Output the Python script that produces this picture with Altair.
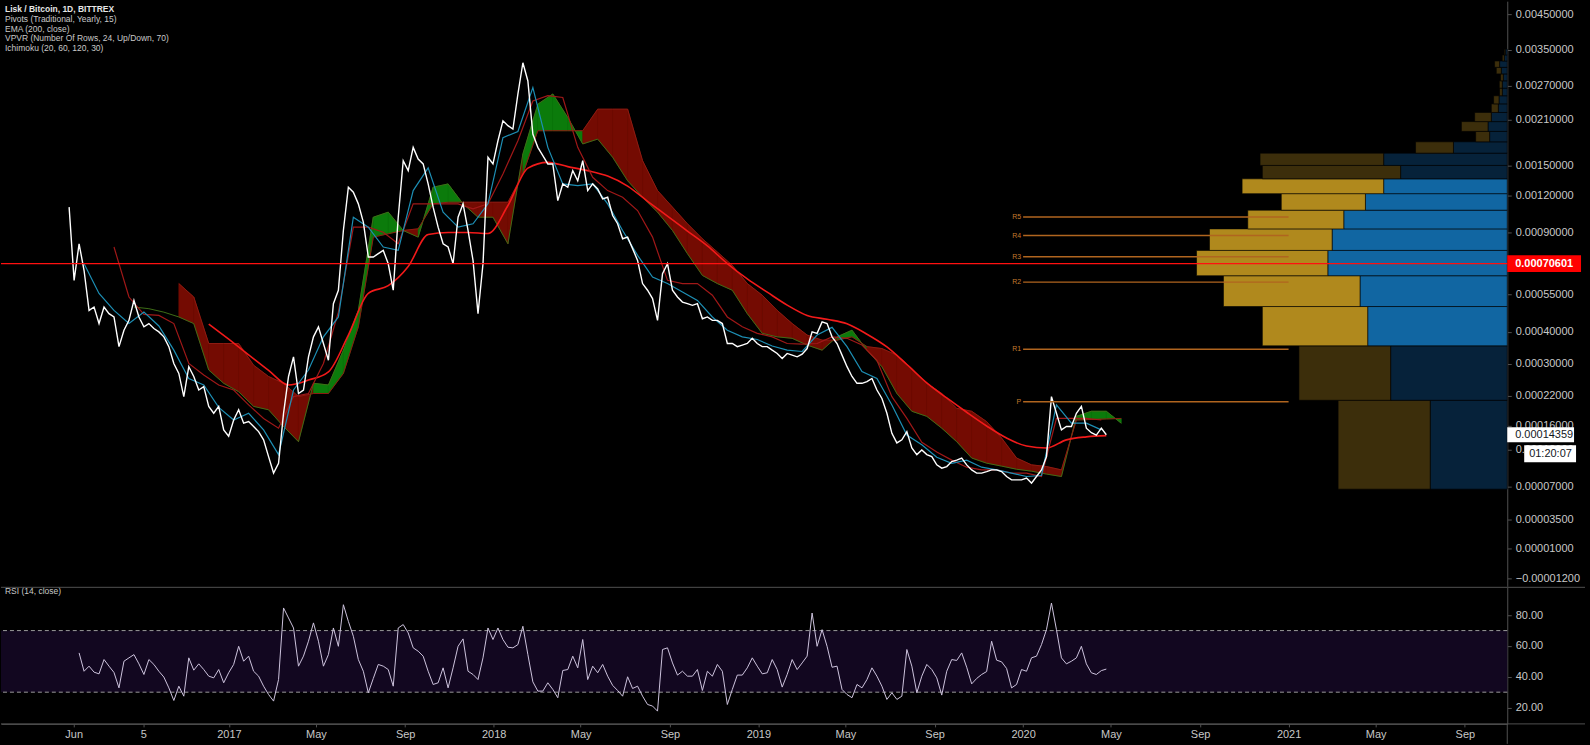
import altair as alt
import pandas as pd

# ---------------- data (prices in units of 1e-4 BTC) ----------------
START = pd.Timestamp("2016-05-25T17:00:00")
STEP = pd.Timedelta(hours=165)

price_e4 = [
    10.96, 6.17, 8.26, 6.68, 4.81, 4.95, 4.30, 4.95, 4.68, 4.55,
    3.51, 4.06, 4.42, 5.23, 4.55, 4.18, 4.30, 4.12, 4.00, 3.83,
    3.51, 3.01, 2.74, 2.18, 2.92, 2.66, 2.33, 2.41, 1.97, 1.83,
    1.97, 1.52, 1.41, 1.70, 1.90, 1.64, 1.67, 1.58, 1.49, 1.35,
    1.09, 0.863, 0.995, 1.83, 2.66, 3.20, 2.25, 2.33, 3.20, 3.83,
    4.18, 3.61, 3.10, 5.09, 5.69, 9.16, 12.75, 12.28, 11.24, 9.77,
    7.44, 7.44, 7.64, 7.84, 7.05, 5.69, 10.15, 15.55, 14.44, 17.17,
    15.75, 15.18, 13.07, 10.96, 9.40, 8.26, 8.05, 7.05, 10.15, 11.24,
    9.16, 7.24, 4.68, 7.05, 15.95, 15.18, 18.03, 20.87, 20.14, 19.66,
    25.39, 31.83, 27.90, 18.95, 17.17, 16.15, 15.18, 15.18, 11.52, 13.07,
    12.75, 14.44, 13.39, 15.55, 12.43, 13.07, 12.59, 11.67, 11.82, 10.28,
    9.65, 8.59, 8.70, 7.95, 7.24, 6.01, 5.69, 5.31, 4.42, 6.51,
    7.05, 5.69, 5.38, 5.16, 5.09, 5.02, 5.09, 4.48, 4.55, 4.42,
    4.42, 4.30, 3.61, 3.61, 3.51, 3.56, 3.61, 3.78, 3.61, 3.51,
    3.51, 3.40, 3.30, 3.15, 3.30, 3.25, 3.20, 3.28, 3.45, 4.00,
    3.95, 4.36, 4.30, 3.83, 3.61, 3.25, 2.92, 2.66, 2.49, 2.49,
    2.53, 2.61, 2.33, 2.14, 1.83, 1.46, 1.30, 1.35, 1.49, 1.22,
    1.12, 1.19, 1.12, 1.09, 0.973, 0.928, 0.950, 1.02, 1.04, 1.07,
    0.973, 0.905, 0.863, 0.863, 0.883, 0.905, 0.905, 0.883, 0.819, 0.777,
    0.777, 0.777, 0.799, 0.737, 0.819, 0.905, 1.09, 2.18, 1.83, 1.52,
    1.58, 1.58, 1.83, 1.97, 1.55, 1.47, 1.43, 1.55, 1.4359,
]

rsi_vals = [  # starts at step 2
    55.5, 43.6, 46.9, 43.0, 41.9, 51.2, 46.9, 42.8, 32.8, 50.1,
    52.3, 54.4, 48.4, 41.5, 51.2, 48.0, 43.6, 39.8, 32.8, 24.6,
    33.9, 27.4, 52.3, 44.3, 48.4, 44.7, 40.4, 39.3, 44.7, 36.1,
    42.6, 48.0, 59.8, 50.1, 53.4, 43.6, 40.4, 33.9, 28.5, 24.2,
    38.2, 84.7, 78.2, 71.7, 46.9, 53.4, 63.1, 75.0, 63.1, 46.9,
    54.4, 71.7, 59.8, 86.8, 76.0, 66.3, 51.2, 43.6, 29.6, 38.9,
    48.0, 46.9, 44.7, 33.9, 71.7, 73.9, 68.5, 58.8, 56.6, 53.4,
    43.6, 35.0, 36.1, 45.8, 32.8, 45.8, 59.8, 64.6, 43.6, 41.5,
    38.2, 52.3, 71.7, 64.2, 71.7, 64.2, 59.2, 58.8, 60.9, 72.8,
    54.4, 36.7, 30.7, 30.7, 36.1, 31.8, 26.4, 44.1, 44.7, 53.4,
    45.8, 64.2, 38.2, 46.9, 42.6, 48.0, 40.4, 34.4, 31.1, 27.4,
    40.0, 32.4, 33.9, 27.4, 22.0, 21.0, 17.7, 57.7, 58.8, 49.0,
    41.1, 43.6, 40.4, 40.4, 44.7, 31.1, 43.6, 40.4, 48.0, 43.6,
    22.0, 31.8, 41.1, 41.1, 45.8, 52.3, 46.9, 41.9, 42.6, 51.2,
    44.7, 33.3, 41.5, 51.2, 44.7, 49.0, 53.4, 81.4, 59.8, 70.6,
    59.8, 46.2, 46.9, 31.8, 28.5, 26.4, 35.0, 32.8, 38.2, 45.8,
    40.4, 33.9, 25.3, 29.6, 25.3, 27.4, 57.7, 46.9, 29.6, 40.4,
    48.0, 44.7, 39.3, 28.1, 43.6, 51.2, 50.6, 55.5, 46.2, 35.4,
    38.9, 41.5, 43.4, 63.1, 50.8, 49.7, 45.4, 32.8, 35.0, 44.7,
    43.6, 52.3, 53.4, 60.9, 70.6, 87.9, 70.6, 52.3, 48.4, 50.1,
    52.3, 59.8, 48.4, 42.6, 41.5, 44.0, 45.0,
]

conv_e4 = [  # Ichimoku conversion line, every 3 steps from step 3
    7.05, 5.54, 4.81, 4.30, 4.74, 4.21, 3.40, 2.61, 2.45, 1.95,
    1.70, 1.83, 1.52, 1.12, 2.33, 2.83, 3.83, 4.55, 10.15, 9.40,
    8.05, 7.84, 12.43, 14.74, 10.55, 9.40, 9.65, 11.24, 18.45, 19.31,
    26.6, 17.17, 13.07, 12.91, 13.07, 11.24, 9.16, 7.54, 6.34, 6.01,
    5.61, 5.23, 4.55, 4.06, 3.83, 3.74, 3.53, 3.40, 3.36, 3.89,
    4.16, 3.51, 2.79, 2.61, 2.00, 1.43, 1.27, 1.08, 0.995, 1.04,
    0.941, 0.905, 0.863, 0.819, 0.832, 2.00, 1.64, 1.64, 1.52,
]

base_e4 = [  # Ichimoku base line, every 3 steps from step 9
    8.05, 5.38, 4.65, 4.61, 4.30, 3.01, 2.70, 2.45, 2.33, 2.00,
    1.73, 1.55, 2.18, 2.25, 3.01, 4.74, 9.40, 9.40, 9.04, 8.26,
    11.24, 11.24, 11.24, 11.24, 10.82, 11.24, 14.09, 18.03,
    24.14, 25.07, 24.75, 17.17, 13.74, 12.43, 11.82, 10.68, 8.70, 6.17,
    6.01, 6.01, 5.46, 4.55, 4.18, 3.95, 3.83, 3.61, 3.59, 3.61,
    3.83, 3.78, 3.56, 3.10, 2.18, 1.73, 1.31, 1.16, 1.04, 0.941,
    0.905, 0.905, 0.863, 0.863, 0.819,
    1.73, 1.73, 1.73, 1.70,
]

ema_e4 = [  # EMA 200, every 4 steps from step 28
    4.28, 3.75, 3.26, 2.82, 2.45, 2.57, 2.78, 3.89, 5.55, 5.91,
    6.90, 8.88, 9.02, 9.02, 8.95, 11.10, 14.72, 15.36, 14.88, 14.44,
    13.86, 12.86, 11.46, 10.23, 9.12, 8.12, 7.06, 6.24, 5.60, 5.03,
    4.61, 4.46, 4.29, 3.92, 3.50, 2.98, 2.50, 2.15, 1.85, 1.59,
    1.38, 1.25, 1.22, 1.35, 1.40, 1.42,
]

spanA_e4 = [  # leading span A, every 3 steps from step 13
    4.95, 4.88, 4.74, 4.55, 4.30, 2.83, 2.49, 2.29, 1.97, 1.90,
    1.58, 1.32, 2.49, 2.45, 3.40, 4.81, 10.15, 10.55, 9.16, 8.70,
    12.75, 13.07, 11.24, 10.15, 10.15, 8.26,
    16.35, 23.58, 25.39, 21.39, 17.61, 18.25, 15.95, 13.39, 11.82, 10.55,
    9.16, 7.64, 6.42, 6.01, 5.69, 4.68, 3.95, 3.83, 3.78, 3.56,
    3.40, 3.83, 4.06, 3.40, 2.92, 2.25, 1.87, 1.77, 1.55, 1.32,
    1.07, 0.997, 0.956, 0.914, 0.888, 0.850,
    0.819, 1.77, 1.87, 1.87, 1.64,
]

spanB_e4 = [  # leading span B, same steps
    None, None, None, 6.01, 5.38, 3.61, 3.61, 3.61, 2.96, 2.66,
    2.49, 2.18, 2.25, 2.25, 2.74, 4.18, 8.70, 8.93, 9.16, 9.28,
    11.24, 11.38, 11.38, 11.38, 11.38, 11.38,
    14.09, 19.41, 19.41, 19.41, 19.41, 22.73, 22.73, 22.73, 15.55, 12.43,
    10.96, 9.65, 8.59, 7.74, 6.96, 6.01, 5.46, 4.81, 4.30, 3.89,
    3.72, 3.72, 3.83, 3.51, 3.45, 3.25, 2.87, 2.49, 2.25, 1.93,
    1.87, 1.67, 1.38, 1.07, 0.973, 0.950,
    0.905, 1.70, 1.71, 1.72, 1.73,
]

# Volume profile: 24 rows
vp_edges_e4 = [0.665, 2.100, 3.535, 4.970, 6.405, 7.840, 9.275, 10.710, 12.145,
               13.580, 15.015, 16.450, 17.885, 19.320, 20.755, 22.190, 23.625,
               25.060, 26.495, 27.930, 29.365, 30.800, 32.235, 33.670, 35.105]
vp_up = [77.3, 117, 140, 147.7, 180, 175.7, 164, 142.3, 124, 107, 124, 54,
         17.7, 19.3, 16, 9, 8.3, 5, 5, 4, 6, 7.7, 3, 2]
vp_down = [92.4, 92, 105.7, 137, 131.7, 123, 96.3, 84.4, 142, 138.7, 124, 38,
           14, 26.7, 16.7, 7, 5.4, 2.7, 3, 2.7, 5, 5, 2, 1]
vp_value_area = [False, False, True, True, True, True, True, True, True] + [False] * 15

pivot_names = ["P", "R1", "R2", "R3", "R4", "R5"]
pivot_e4 = [2.067, 3.428, 6.083, 7.453, 8.807, 10.17]
pivot_start, pivot_end = "2020-01-01T00:00:00", "2021-01-01T00:00:00"

hline_price = 0.00070601
last_price = 0.00014359
countdown = "01:20:07"

legend_lines = ["Lisk / Bitcoin, 1D, BITTREX", "Pivots (Traditional, Yearly, 15)",
                "EMA (200, close)", "VPVR (Number Of Rows, 24, Up/Down, 70)",
                "Ichimoku (20, 60, 120, 30)"]

y_ticks = [0.0045, 0.0035, 0.0027, 0.0021, 0.0015, 0.0012, 0.0009, 0.00055, 0.0004,
           0.0003, 0.00022, 0.00016, 0.00012, 0.00007, 0.000035, 0.00001, -0.000012]
rsi_ticks = [20, 40, 60, 80]
x_tick_dates = [(2016, 6, 1), (2016, 9, 5), (2017, 1, 1), (2017, 5, 1), (2017, 9, 1),
                (2018, 1, 1), (2018, 5, 1), (2018, 9, 1), (2019, 1, 1), (2019, 5, 1),
                (2019, 9, 1), (2020, 1, 1), (2020, 5, 1), (2020, 9, 1), (2021, 1, 1),
                (2021, 5, 1), (2021, 9, 1)]

# ---------------- frames ----------------
def ts(i):
    return (START + STEP * i).strftime("%Y-%m-%dT%H:%M:%S")

def series(vals, first, step, scale=1e-4):
    rows = []
    for k, v in enumerate(vals):
        if v is None:
            continue
        rows.append({"date": ts(first + step * k), "v": v * scale})
    return pd.DataFrame(rows)

price_df = series(price_e4, 0, 1)
rsi_df = series(rsi_vals, 2, 1, 1.0)
conv_df = series(conv_e4, 3, 3)
base_df = series(base_e4, 9, 3)
ema_df = series(ema_e4, 28, 4)
spanA_df = series(spanA_e4, 13, 3)
spanB_df = series(spanB_e4, 13, 3)

CLOUD_G, CLOUD_R = "#0b7b0b", "#740b02"
cloud_rows = []
for k in range(len(spanA_e4) - 1):
    a0, b0, a1, b1 = spanA_e4[k], spanB_e4[k], spanA_e4[k + 1], spanB_e4[k + 1]
    if None in (a0, b0, a1, b1):
        continue
    col = CLOUD_G if (a0 - b0) + (a1 - b1) > 0 else CLOUD_R
    for j, a, b in ((k, a0, b0), (k + 1, a1, b1)):
        cloud_rows.append({"date": ts(13 + 3 * j), "a": a * 1e-4, "b": b * 1e-4, "seg": k, "col": col})
cloud_df = pd.DataFrame(cloud_rows)

vp_rows = []
for k in range(24):
    lo, hi = vp_edges_e4[k] * 1e-4, vp_edges_e4[k + 1] * 1e-4
    va = vp_value_area[k]
    vp_rows.append({"lo": lo, "hi": hi, "vs": 0, "ve": vp_up[k], "col": "#1166a2" if va else "#06223a"})
    vp_rows.append({"lo": lo, "hi": hi, "vs": vp_up[k], "ve": vp_up[k] + vp_down[k],
                    "col": "#b0891d" if va else "#3c2e0b"})
vp_df = pd.DataFrame(vp_rows)

pivot_df = pd.DataFrame({"name": pivot_names, "v": [p * 1e-4 for p in pivot_e4],
                         "d0": pivot_start, "d1": pivot_end})

# ---------------- scales / axes ----------------
W, H_MAIN, H_RSI = 1511, 587, 137
FONT = "Liberation Sans"
SMALL = "Liberation Sans Narrow, Liberation Sans"
LBL = "#c8c8c8"
GRID = "#505050"

XS = alt.Scale(domain=[alt.DateTime(year=2016, month=2, date=21, hours=19),
                       alt.DateTime(year=2021, month=10, date=29, hours=12)])
YS = alt.Scale(type="symlog", constant=1e-4, domain=[-0.0000185, 0.00495], nice=False, zero=False)
RS = alt.Scale(domain=[9.4, 98.1], nice=False, zero=False)

y_axis = alt.Axis(orient="right", values=y_ticks, format=".8f", title=None, grid=False,
                  tickSize=4, labelPadding=4, tickColor=GRID, domainColor=GRID,
                  labelColor=LBL, labelFont=FONT, labelFontSize=11,
                  labelOverlap=False, labelFlush=False, labelBound=False)
rsi_axis = alt.Axis(orient="right", values=rsi_ticks, format=".2f", title=None, grid=False,
                    tickSize=4, labelPadding=4, tickColor=GRID, domainColor=GRID,
                    labelColor=LBL, labelFont=FONT, labelFontSize=11,
                    labelOverlap=False, labelFlush=False)
x_axis = alt.Axis(values=[alt.DateTime(year=a, month=b, date=c) for a, b, c in x_tick_dates],
                  labelExpr="date(datum.value) == 5 ? '5' : (month(datum.value) == 0 ? timeFormat(datum.value, '%Y') : timeFormat(datum.value, '%b'))",
                  title=None, grid=False, tickSize=3, labelPadding=2, tickColor=GRID,
                  domainColor=GRID, labelColor=LBL, labelFont=FONT, labelFontSize=11,
                  labelOverlap=False, labelFlush=False)

def X(f="date"):
    return alt.X(f"{f}:T", scale=XS, axis=None)

def Y(f="v"):
    # every layer carries the same scale and the same axis definition
    return alt.Y(f"{f}:Q", scale=YS, axis=y_axis)

def R(f="v"):
    return alt.Y(f"{f}:Q", scale=RS, axis=rsi_axis)

# ---------------- main panel ----------------
vp = alt.Chart(vp_df).mark_rect(stroke="#000000", strokeWidth=0.6).encode(
    x=alt.X("vs:Q", scale=alt.Scale(domain=[0, W], reverse=True, nice=False, zero=False), axis=None),
    x2="ve:Q",
    y=Y("lo"),
    y2="hi:Q",
    color=alt.Color("col:N", scale=None),
)

cloud = alt.Chart(cloud_df).mark_area(strokeWidth=0.6).encode(
    x=X(), y=Y("a"), y2="b:Q", detail="seg:N",
    fill=alt.Fill("col:N", scale=None), stroke=alt.Stroke("col:N", scale=None))
spanA_line = alt.Chart(spanA_df).mark_line(color="#3e6d17", strokeWidth=1).encode(x=X(), y=Y())
spanB_line = alt.Chart(spanB_df).mark_line(color="#8e1b12", strokeWidth=1).encode(x=X(), y=Y())
ema_line = alt.Chart(ema_df).mark_line(color="#f21a1a", strokeWidth=1.6, interpolate="monotone").encode(x=X(), y=Y())
base_line = alt.Chart(base_df).mark_line(color="#a01818", strokeWidth=1.2).encode(x=X(), y=Y())
conv_line = alt.Chart(conv_df).mark_line(color="#1d8fb5", strokeWidth=1.2).encode(x=X(), y=Y())
price_line = alt.Chart(price_df).mark_line(color="#ffffff", strokeWidth=1.4).encode(x=X(), y=Y())

piv_rules = alt.Chart(pivot_df).mark_rule(color="#b0651f", strokeWidth=1.4).encode(
    x=X("d0"), x2="d1:T", y=Y())
piv_text = alt.Chart(pivot_df).mark_text(align="right", baseline="middle", dx=-2, fontSize=7,
                                         font=SMALL, color="#c47a2c").encode(x=X("d0"), y=Y(), text="name:N")

hl_df = pd.DataFrame({"v": [hline_price], "t": [f"{hline_price:.8f}"]})
hline = alt.Chart(hl_df).mark_rule(color="#ff1010", strokeWidth=1.3).encode(y=Y())
hl_box = alt.Chart(hl_df).mark_rule(color="#ff0000", strokeWidth=17).encode(
    x=alt.value(W), x2=alt.value(1585), y=Y())
hl_txt = alt.Chart(hl_df).mark_text(align="left", baseline="middle", color="#ffffff", fontSize=11,
                                    fontWeight="bold", font=FONT).encode(x=alt.value(1519), y=Y(), text="t:N")

lp_df = pd.DataFrame({"v": [last_price], "t": [f"{last_price:.8f}"], "c": [countdown]})
lp_box = alt.Chart(lp_df).mark_rule(color="#ffffff", strokeWidth=15).encode(
    x=alt.value(W), x2=alt.value(1578), y=Y())
lp_txt = alt.Chart(lp_df).mark_text(align="left", baseline="middle", color="#131722", fontSize=11,
                                    font=FONT).encode(x=alt.value(1519), y=Y(), text="t:N")
cd_box = alt.Chart(lp_df).mark_rule(color="#ffffff", strokeWidth=17, yOffset=19).encode(
    x=alt.value(1528), x2=alt.value(1580), y=Y())
cd_txt = alt.Chart(lp_df).mark_text(align="left", baseline="middle", color="#131722", fontSize=11,
                                    font=FONT, dy=19).encode(x=alt.value(1533), y=Y(), text="c:N")

legend_layers = []
for k, s in enumerate(legend_lines):
    legend_layers.append(
        alt.Chart(pd.DataFrame({"t": [s]})).mark_text(
            align="left", baseline="middle", fontSize=8.5, font=SMALL,
            color="#e6e6e6" if k == 0 else "#c8c8c8", fontWeight="bold" if k == 0 else "normal"
        ).encode(x=alt.value(4), y=alt.value(8 + 9.8 * k), text="t:N"))

inner = alt.layer(cloud, spanA_line, spanB_line, ema_line, base_line, conv_line, price_line,
                  piv_rules, piv_text, hline, hl_box, hl_txt, lp_box, lp_txt, cd_box, cd_txt,
                  *legend_layers)
main = alt.layer(vp, inner).resolve_scale(x="independent").properties(width=W, height=H_MAIN)

# ---------------- RSI panel ----------------
band = alt.Chart(pd.DataFrame({"lo": [30], "hi": [70]})).mark_rect(color="#120720").encode(
    y=R("lo"), y2="hi:Q")
dash = alt.Chart(pd.DataFrame({"v": [30, 70]})).mark_rule(
    color="#9a9a9a", strokeDash=[4, 3], strokeWidth=1).encode(y=R())
rsi_line = alt.Chart(rsi_df).mark_line(color="#cdc3dd", strokeWidth=1).encode(
    x=alt.X("date:T", scale=XS, axis=x_axis), y=R())
one = pd.DataFrame({"t": ["RSI (14, close)"]})
rsi_lbl = alt.Chart(one).mark_text(align="left", baseline="middle", fontSize=8.5, font=SMALL,
                                   color="#c8c8c8").encode(x=alt.value(4), y=alt.value(4), text="t:N")
div_top = alt.Chart(one).mark_rule(color=GRID, strokeWidth=1).encode(
    x=alt.value(0), x2=alt.value(1589), y=alt.value(0))
div_bot = alt.Chart(one).mark_rule(color=GRID, strokeWidth=1).encode(
    x=alt.value(0), x2=alt.value(1589), y=alt.value(H_RSI))
vline = alt.Chart(one).mark_rule(color=GRID, strokeWidth=1).encode(
    x=alt.value(W), y=alt.value(H_RSI), y2=alt.value(157))

rsi = alt.layer(band, dash, rsi_line, rsi_lbl, div_top, div_bot, vline).properties(width=W, height=H_RSI)

chart = alt.vconcat(main, rsi, spacing=0).properties(
    padding={"left": 0, "top": 0, "right": 0, "bottom": 0}
).configure(background="#000000").configure_view(stroke=None).configure_axis(labelOverlap=False)

chart.save("out.html", embed_options={"renderer": "svg", "actions": False,
                                      "defaultStyle": "body{margin:0;background:#000000;overflow:hidden}"})
